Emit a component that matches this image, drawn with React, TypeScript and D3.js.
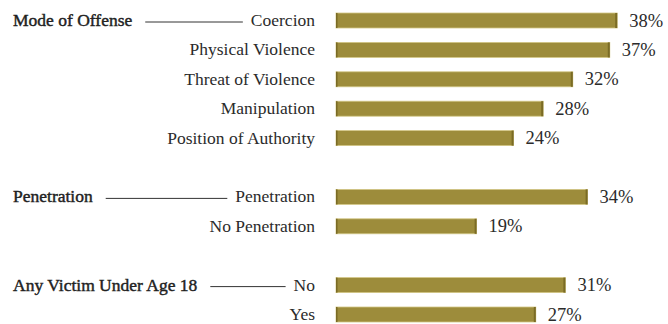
import React, { useEffect, useRef } from "react";
import * as d3 from "d3";

const groupTitles = ["Mode of Offense", "Penetration", "Any Victim Under Age 18"];
const modeLabels = ["Coercion", "Physical Violence", "Threat of Violence", "Manipulation", "Position of Authority"];
const modeValues = [38, 37, 32, 28, 24];
const penLabels = ["Penetration", "No Penetration"];
const penValues = [34, 19];
const ageLabels = ["No", "Yes"];
const ageValues = [31, 27];

const W = 668;
const H = 324;
const FONT = "'Liberation Serif', 'Times New Roman', serif";

export default function App() {
  const ref = useRef<SVGSVGElement>(null);

  useEffect(() => {
    const svg = d3.select(ref.current);
    svg.selectAll("*").remove();

    type Row = { label: string; value: number; slot: number; group: number; first: boolean };
    const rows: Row[] = [];
    const groups = [
      { labels: modeLabels, values: modeValues },
      { labels: penLabels, values: penValues },
      { labels: ageLabels, values: ageValues },
    ];
    let slot = 0;
    groups.forEach((g, gi) => {
      g.labels.forEach((l, i) => {
        rows.push({ label: l, value: g.values[i], slot, group: gi, first: i === 0 });
        slot++;
      });
      slot++;
    });

    const nSlots = 11;
    const y = d3.scaleLinear().domain([0, nSlots - 1]).range([20.5, 20.5 + 29.4 * (nSlots - 1)]);
    const x = d3.scaleLinear().domain([0, 38]).range([336, 617.2]);
    const barH = 15;
    const labelRight = 315;

    const g = svg.append("g");

    // bars
    const bars = g.selectAll("g.bar").data(rows).join("g").attr("class", "bar");
    bars
      .append("rect")
      .attr("x", x(0))
      .attr("y", (d) => y(d.slot) - barH / 2)
      .attr("width", (d) => x(d.value) - x(0))
      .attr("height", barH)
      .attr("fill", "#9d8c3b")
      .attr("stroke", "#d3c685")
      .attr("stroke-width", 0.8);
    bars
      .append("rect")
      .attr("x", (d) => x(d.value) - 2)
      .attr("y", (d) => y(d.slot) - barH / 2)
      .attr("width", 2)
      .attr("height", barH)
      .attr("fill", "#7a6b25");
    bars
      .append("rect")
      .attr("x", x(0))
      .attr("y", (d) => y(d.slot) - barH / 2)
      .attr("width", 1.5)
      .attr("height", barH)
      .attr("fill", "#7a6b25");

    // value labels
    g.selectAll("text.val")
      .data(rows)
      .join("text")
      .attr("class", "val")
      .attr("x", (d) => x(d.value) + 12)
      .attr("y", (d) => y(d.slot) + 6)
      .attr("font-family", FONT)
      .attr("font-size", 18.5)
      .attr("fill", "#2b2b2b")
      .text((d) => `${d.value}%`);

    // category labels
    const catLabels = g
      .selectAll("text.cat")
      .data(rows)
      .join("text")
      .attr("class", "cat")
      .attr("x", labelRight)
      .attr("y", (d) => y(d.slot) + 5.5)
      .attr("text-anchor", "end")
      .attr("font-family", FONT)
      .attr("font-size", 17.5)
      .attr("fill", "#2b2b2b")
      .text((d) => d.label);

    // group titles and connectors
    const firstRows = rows.filter((r) => r.first);
    firstRows.forEach((r) => {
      const t = g
        .append("text")
        .attr("x", 13)
        .attr("y", y(r.slot) + 5.5)
        .attr("font-family", FONT)
        .attr("font-size", 17.5)
        .attr("fill", "#1f1f1f")
        .attr("stroke", "#1f1f1f")
        .attr("stroke-width", 0.45)
        .text(groupTitles[r.group]);
      const tw = (t.node() as SVGTextElement).getComputedTextLength();
      const labelNode = catLabels.filter((d) => d === r).node() as SVGTextElement;
      const lw = labelNode.getComputedTextLength();
      g.append("line")
        .attr("x1", 13 + tw + 13)
        .attr("x2", labelRight - lw - 8)
        .attr("y1", y(r.slot) + 1.5)
        .attr("y2", y(r.slot) + 1.5)
        .attr("stroke", "#333")
        .attr("stroke-width", 1);
    });
  }, []);

  return (
    <svg
      ref={ref}
      width={W}
      height={H}
      style={{ position: "absolute", left: 0, top: 0, background: "#fff", display: "block" }}
    />
  );
}
